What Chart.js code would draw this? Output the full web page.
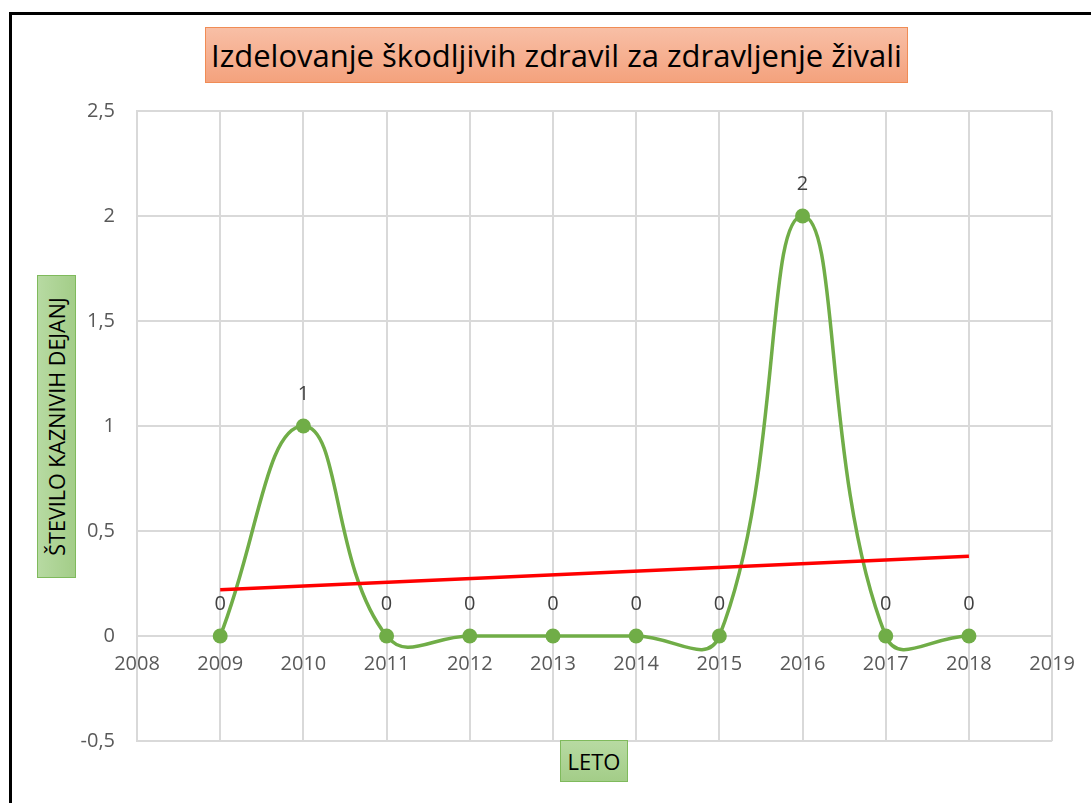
<!DOCTYPE html>
<html>
<head>
<meta charset="utf-8">
<script src="https://cdn.jsdelivr.net/npm/chart.js@4"></script>
<style>
  body { margin: 0; background: #fff; font-family: 'Open Sans', sans-serif; }
  #wrap { position: relative; width: 1091px; height: 803px; overflow: hidden; }
  #frame { position: absolute; left: 9px; top: 12px; width: 1200px; height: 900px; border: 3px solid #000; }
  canvas { position: absolute; left: 0; top: 0; }
  .box { position: absolute; box-sizing: border-box; color: #000; display: flex; align-items: center; justify-content: center; white-space: nowrap; }
  #title { left: 205px; top: 27px; width: 703px; height: 56px; font-size: 31px;
           background: linear-gradient(#f8bfa6, #f4a27d); border: 1px solid #f08c55; }
  #ytitle { left: 37px; top: 275px; width: 39px; height: 303px;
            background: linear-gradient(90deg, #b7daa2, #a3cd88); border: 1px solid #7fba5c; }
  #ytitle span { transform: rotate(-90deg); font-size: 21.5px; }
  #xtitle { left: 560px; top: 740px; width: 68px; height: 42px; font-size: 22px;
            background: linear-gradient(#b7daa2, #a3cd88); border: 1px solid #7fba5c; }
</style>
</head>
<body>
<div id="wrap">
  <div id="frame"></div>
  <canvas id="myChart" width="1091" height="803"></canvas>
  <div class="box" id="title">Izdelovanje škodljivih zdravil za zdravljenje živali</div>
  <div class="box" id="ytitle"><span>ŠTEVILO KAZNIVIH DEJANJ</span></div>
  <div class="box" id="xtitle">LETO</div>
</div>
<script>
let years = [2009, 2010, 2011, 2012, 2013, 2014, 2015, 2016, 2017, 2018];
let cases = [0, 1, 0, 0, 0, 0, 0, 2, 0, 0];
// linear trendline ends
let trendYears = [2009, 2018];
let trendValues = [0.22, 0.38];
let yTicks = [-0.5, 0, 0.5, 1, 1.5, 2, 2.5];
let xMin = 2008;
let xMax = 2019;

let mainPoints = years.map((y, i) => ({ x: y, y: cases[i] }));
let trendPoints = trendYears.map((y, i) => ({ x: y, y: trendValues[i] }));

let gridColor = '#d9d9d9';
let tickColor = '#595959';

// value labels above each point
let pointLabels = {
    id: 'pointLabels',
    afterDatasetsDraw(chart) {
        let ctx = chart.ctx;
        let meta = chart.getDatasetMeta(1);
        ctx.save();
        ctx.font = '20px "Open Sans"';
        ctx.fillStyle = '#404040';
        ctx.textAlign = 'center';
        ctx.textBaseline = 'middle';
        meta.data.forEach((pt, i) => {
            ctx.fillText(String(cases[i]), pt.x, pt.y - 32);
        });
        ctx.restore();
    }
};

let ctx = document.getElementById('myChart').getContext('2d');
let myChart = new Chart(ctx, {
    type: 'line',
    data: {
        datasets: [{
            label: 'Trend',
            data: trendPoints,
            borderColor: '#ff0000',
            borderWidth: 3.5,
            pointRadius: 0,
            tension: 0,
            order: 0
        }, {
            label: 'Število',
            data: mainPoints,
            borderColor: '#70ad47',
            backgroundColor: '#70ad47',
            borderWidth: 3.5,
            pointRadius: 7.5,
            pointBorderWidth: 0,
            tension: 0.45,
            order: 1
        }]
    },
    options: {
        responsive: false,
        animation: false,
        layout: { padding: { left: 0, right: 38, top: 111, bottom: 62 } },
        plugins: {
            legend: { display: false },
            tooltip: { enabled: false }
        },
        scales: {
            x: {
                type: 'linear',
                position: { y: 0 },
                min: xMin,
                max: xMax,
                grid: { color: gridColor, lineWidth: 2, drawTicks: false },
                border: { color: gridColor, width: 2 },
                ticks: {
                    stepSize: 1,
                    padding: 16,
                    color: tickColor,
                    font: { family: 'Open Sans', size: 20 },
                    maxRotation: 0,
                    callback: v => String(v)
                }
            },
            y: {
                min: yTicks[0],
                max: yTicks[yTicks.length - 1],
                grid: { color: gridColor, lineWidth: 2, drawTicks: false },
                border: { color: gridColor, width: 2 },
                afterFit: scale => { scale.width = 137; },
                afterBuildTicks: scale => { scale.ticks = yTicks.map(v => ({ value: v })); },
                ticks: {
                    padding: 22,
                    color: tickColor,
                    font: { family: 'Open Sans', size: 20 },
                    callback: v => String(v).replace('.', ',')
                }
            }
        }
    },
    plugins: [pointLabels]
});
</script>
</body>
</html>
